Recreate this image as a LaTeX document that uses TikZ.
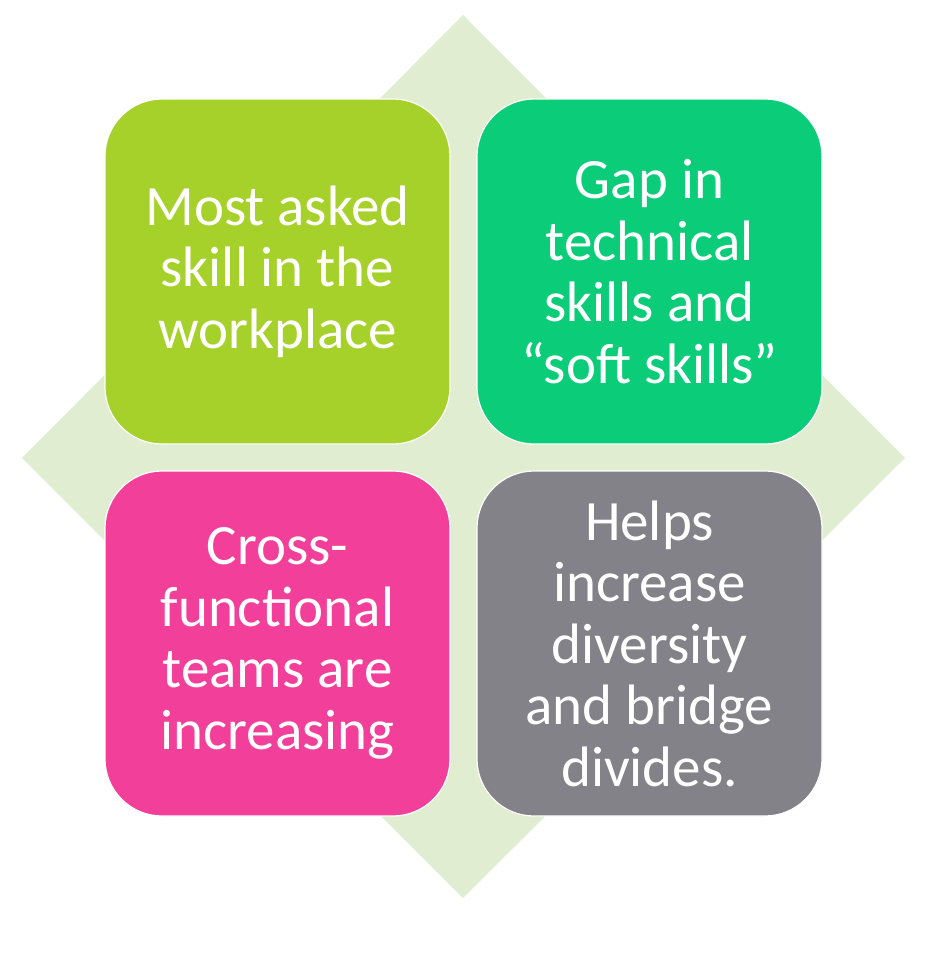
\documentclass[tikz,border=0pt]{standalone}
\usepackage{fontspec}
\setmainfont{Carlito}
\usepackage{tikz}
\usetikzlibrary{positioning}
\definecolor{limegreen}{HTML}{A6D12A}
\definecolor{mintgreen}{HTML}{0BCC78}
\definecolor{hotpink}{HTML}{F2409A}
\definecolor{slategrey}{HTML}{838288}
\definecolor{palegreen}{HTML}{E0EDD0}
\tikzset{
  tile/.style={draw=white,line width=1.2pt,rounded corners=57pt,
    minimum width=345pt,minimum height=345pt,inner sep=0pt,outer sep=0pt,
    text=white,align=center,font=\fontsize{57}{61.5}\selectfont}
}
\begin{document}
\begin{tikzpicture}[x=1pt,y=-1pt]
  \useasboundingbox (0,0) rectangle (939,976);
  \fill[palegreen] (463,15) -- (905,458) -- (463,898) -- (22,458) -- cycle;
  \node[tile,fill=limegreen] (asked) at (277.5,271.5) {Most asked\\skill in the\\workplace};
  \node[tile,fill=mintgreen,right=27pt of asked] (gap) {Gap in\\technical\\skills and\\“soft skills”};
  \node[tile,fill=hotpink,below=27pt of asked] (teams) {Cross-\\functional\\teams are\\increasing};
  \node[tile,fill=slategrey,below=27pt of gap] (divides) {Helps\\increase\\diversity\\and bridge\\divides.};
\end{tikzpicture}
\end{document}
